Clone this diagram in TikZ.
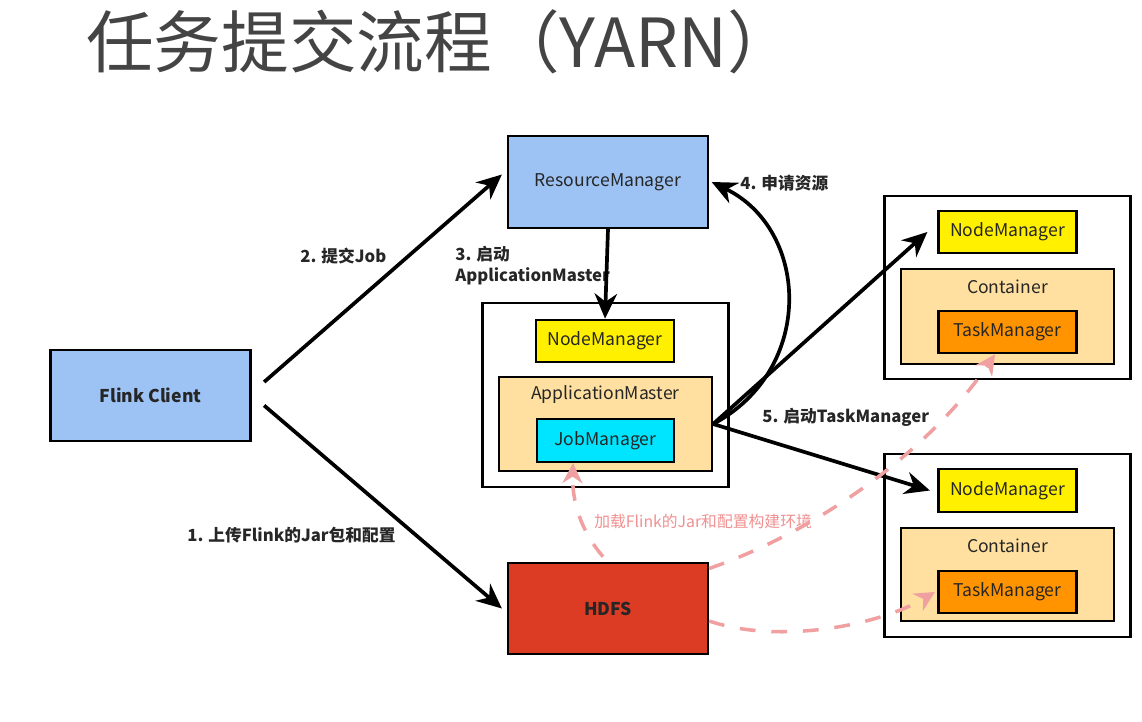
\documentclass[tikz,border=0pt]{standalone}
\usepackage{fontspec}
\setmainfont{Noto Sans CJK SC}
\usetikzlibrary{arrows.meta}
\definecolor{clientblue}{RGB}{157,195,245}
\definecolor{nmyellow}{RGB}{255,240,0}
\definecolor{amorange}{RGB}{255,224,160}
\definecolor{jmcyan}{RGB}{0,229,255}
\definecolor{tmorange}{RGB}{255,148,0}
\definecolor{hdfsred}{RGB}{220,59,36}
\definecolor{loadpink}{RGB}{240,160,160}
\definecolor{titlegray}{RGB}{68,68,68}
\begin{document}
\begin{tikzpicture}[x=0.02cm,y=-0.02cm,>={Stealth[length=5mm,width=4.5mm]},
    box/.style={shape=rectangle,draw=black,line width=1.3pt,inner sep=0pt,
        text=black!85,font=\fontsize{10}{12}\selectfont},
    bigbox/.style={box,minimum width=4cm,minimum height=1.83cm,font=\fontsize{10}{12}\selectfont\bfseries},
    outerbox/.style={box,fill=white,minimum width=4.92cm,minimum height=3.67cm},
    nmbox/.style={box,fill=nmyellow,minimum width=2.76cm,minimum height=0.85cm},
    ctbox/.style={box,fill=amorange,minimum width=4.26cm,minimum height=1.9cm},
    tmbox/.style={box,fill=tmorange,minimum width=2.76cm,minimum height=0.85cm},
    flow/.style={->,line width=2.1pt},
    load/.style={-{Stealth[length=4mm,width=4mm]},loadpink,line width=2pt,dash pattern=on 9pt off 9pt},
    steplabel/.style={font=\fontsize{9.5}{12}\selectfont\bfseries,text=black!85,inner sep=0pt}]
    \useasboundingbox (0,0) rectangle (1142,722);
    \node[anchor=base west,inner sep=0pt,text=titlegray,font=\fontsize{38.5}{40}\selectfont] (title) at (86,68) {任务提交流程（YARN）};

    \node[bigbox,fill=clientblue] (client) at (150.5,395.5) {Flink Client};
    \node[bigbox,fill=clientblue,font=\fontsize{10}{12}\selectfont] (rm) at (608,182) {ResourceManager};
    \node[bigbox,fill=hdfsred] (hdfs) at (608,608.5) {HDFS};

    \node[outerbox] (wl) at (605.5,395) {};
    \node[nmbox] (nml) at (605,341) {NodeManager};
    \node[ctbox,minimum height=1.88cm] (am) at (605.5,424) {};
    \node[box,draw=none] (amlabel) at (605.5,395) {ApplicationMaster};
    \node[box,fill=jmcyan,minimum width=2.74cm,minimum height=0.86cm] (jm) at (605.5,440.5) {JobManager};

    \node[outerbox] (wt) at (1007.5,287.5) {};
    \node[nmbox] (nmt) at (1007.5,232) {NodeManager};
    \node[ctbox] (ctt) at (1007.5,316.5) {};
    \node[box,draw=none] (cttlabel) at (1007.5,287) {Container};
    \node[tmbox] (tmt) at (1007.5,332) {TaskManager};

    \node[outerbox] (wb) at (1007.5,545.5) {};
    \node[nmbox] (nmb) at (1007.5,490.5) {NodeManager};
    \node[ctbox,minimum height=1.86cm] (ctb) at (1007.5,574.5) {};
    \node[box,draw=none] (ctblabel) at (1007.5,546) {Container};
    \node[tmbox] (tmb) at (1007.5,592) {TaskManager};

    \node[steplabel,anchor=west] (l2) at (300,256) {2. 提交Job};
    \node[steplabel,anchor=west] (l1) at (187,535) {1. 上传Flink的Jar包和配置};
    \node[steplabel,anchor=west,align=left] (l3) at (455,266) {3. 启动\\ApplicationMaster};
    \node[steplabel,anchor=west] (l4) at (740,183) {4. 申请资源};
    \node[steplabel,anchor=west] (l5) at (762,417) {5. 启动TaskManager};
    \node[anchor=west,inner sep=0pt,text=loadpink!90!red,font=\fontsize{9}{11}\selectfont] (lload) at (594,521) {加载Flink的Jar和配置构建环境};

    \draw[flow] ([xshift=0.25cm,yshift=0.27cm]client.east) -- ([xshift=-0.1cm,yshift=0.15cm]rm.west);
    \draw[flow] ([xshift=0.25cm,yshift=-0.2cm]client.east) -- ([xshift=-0.1cm]hdfs.west);
    \draw[flow] (rm.south) -- (nml.north);
    \draw[flow] (am.east) .. controls (815,370) and (810,230) .. ([xshift=0.05cm]rm.east);
    \draw[flow] (am.east) -- ([xshift=-0.2cm]nmt.west);
    \draw[flow] (am.east) -- ([xshift=-0.15cm]nmb.west);

    \draw[load] ([xshift=-0.1cm,yshift=0.1cm]hdfs.north) .. controls (580,530) and (572,500) .. ([xshift=-0.65cm]jm.south);
    \draw[load] ([yshift=0.8cm]hdfs.east) .. controls (820,530) and (930,450) .. ([xshift=-0.25cm]tmt.south);
    \draw[load] ([yshift=-0.25cm]hdfs.east) .. controls (780,645) and (880,625) .. ([xshift=-0.05cm]tmb.west);
\end{tikzpicture}
\end{document}
